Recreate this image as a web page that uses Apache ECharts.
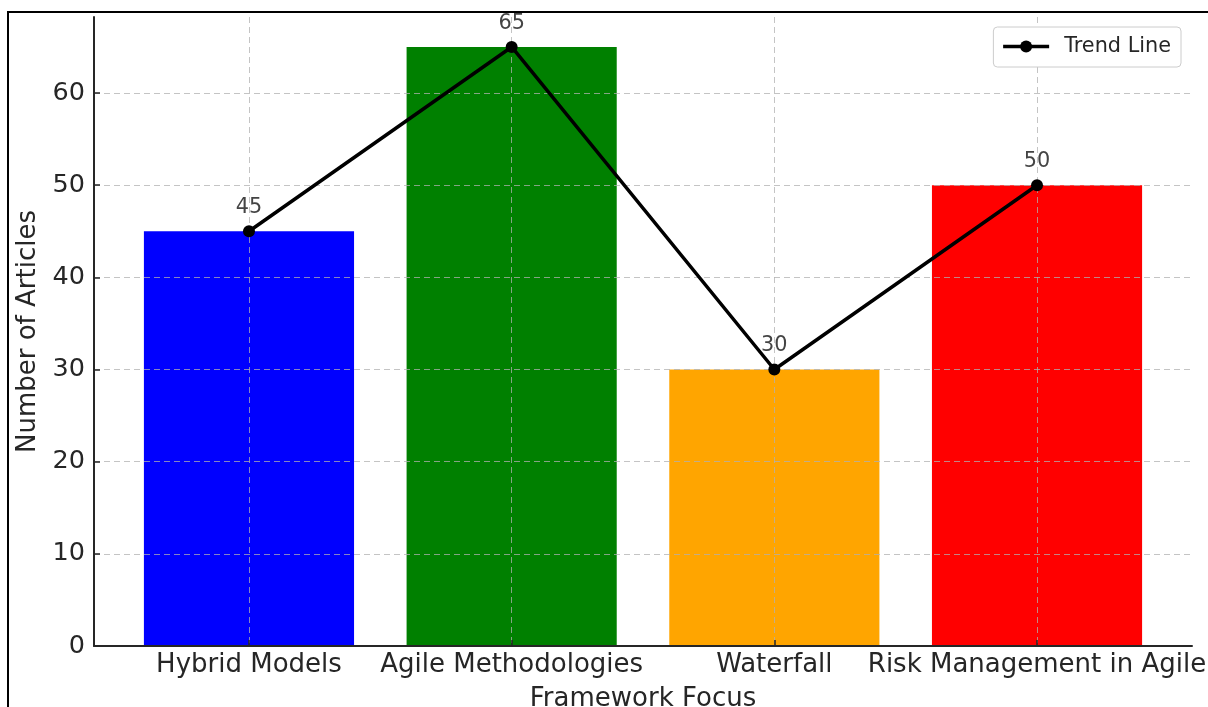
<!DOCTYPE html>
<html>
<head>
<meta charset="utf-8">
<script src="https://cdn.jsdelivr.net/npm/echarts@6/dist/echarts.min.js"></script>
<style>
    body { margin: 0; background: #fff; }
    #wrap { position: relative; width: 1208px; height: 707px; overflow: hidden; }
    #chart { width: 1208px; height: 707px; }
    .frame {
        position: absolute; left: 7px; top: 11px; width: 1400px; height: 900px;
        border: 2px solid #000; pointer-events: none;
    }
</style>
</head>
<body>
<div id="wrap">
    <div id="chart"></div>
    <div class="frame"></div>
</div>
<script>
// data
const categories = ['Hybrid Models', 'Agile Methodologies', 'Waterfall', 'Risk Management in Agile'];
const articleCounts = [45, 65, 30, 50];
const barColors = ['#0000ff', '#008000', '#ffa500', '#ff0000'];
const xPositions = [0, 1, 2, 3];
const yTicks = [0, 10, 20, 30, 40, 50, 60];

const textColor = '#262626';
const gridLine = { show: true, lineStyle: { color: 'rgba(176,176,176,0.75)', width: 1, type: [6, 4] } };

const chart = echarts.init(document.getElementById('chart'));

chart.setOption({
    animation: false,
    textStyle: { fontFamily: 'DejaVu Sans' },
    grid: { left: 94, right: 16, top: 17, bottom: 61, outerBoundsMode: 'none' },
    legend: {
        data: ['Trend Line'],
        right: 27,
        top: 27,
        padding: [9, 10, 10, 8],
        itemWidth: 46,
        itemHeight: 15,
        backgroundColor: '#fff',
        borderColor: '#cccccc',
        borderWidth: 1,
        borderRadius: 4,
        lineStyle: { width: 3.5, color: '#000' },
        textStyle: { fontSize: 20.8, color: textColor, padding: [0, 0, 0, 10] }
    },
    xAxis: {
        type: 'value',
        min: -0.59,
        max: 3.59,
        z: 3,
        name: 'Framework Focus',
        nameLocation: 'middle',
        nameGap: 40,
        nameTextStyle: { fontSize: 26, color: textColor },
        axisLine: { onZero: false, lineStyle: { color: textColor, width: 2 } },
        axisTick: { inside: true, length: 6, customValues: xPositions, lineStyle: { color: textColor, width: 1.5 } },
        axisLabel: {
            customValues: xPositions,
            fontSize: 26,
            color: textColor,
            margin: 6,
            formatter: (v) => categories[Math.round(v)]
        },
        splitLine: gridLine
    },
    yAxis: {
        type: 'value',
        min: 0,
        max: 68.25,
        z: 3,
        name: 'Number of Articles',
        nameLocation: 'middle',
        nameGap: 46,
        nameTextStyle: { fontSize: 26, color: textColor },
        axisLine: { show: true, onZero: false, lineStyle: { color: textColor, width: 2 } },
        axisTick: { show: true, inside: true, length: 6, customValues: yTicks, lineStyle: { color: textColor, width: 1.5 } },
        axisLabel: { customValues: yTicks, fontSize: 25.5, color: textColor, margin: 9 },
        splitLine: gridLine
    },
    series: [
        {
            name: 'Articles',
            type: 'bar',
            barWidth: '80%',
            z: 2,
            data: xPositions.map((x, i) => ({
                value: [x, articleCounts[i]],
                itemStyle: { color: barColors[i] }
            }))
        },
        {
            name: 'Trend Line',
            type: 'line',
            z: 4,
            symbol: 'circle',
            symbolSize: 12,
            lineStyle: { color: '#000', width: 3.5 },
            itemStyle: { color: '#000' },
            label: {
                show: true,
                position: 'top',
                distance: 7,
                fontSize: 20.8,
                color: '#444',
                formatter: (p) => p.value[1]
            },
            data: xPositions.map((x, i) => [x, articleCounts[i]])
        }
    ]
});
</script>
</body>
</html>
